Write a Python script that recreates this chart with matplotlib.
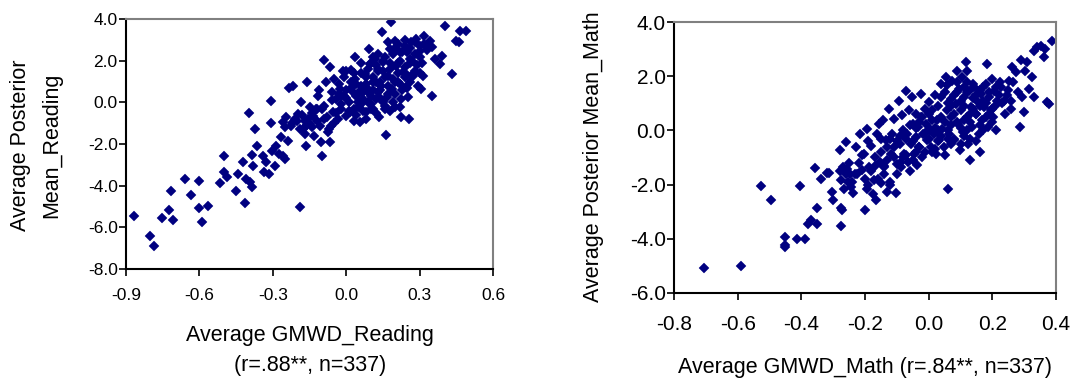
import matplotlib
matplotlib.use("Agg")
import matplotlib.pyplot as plt

plt.rcParams['font.family'] = ['Liberation Sans', 'DejaVu Sans']

# Reading: GMWD vs posterior mean
reading_x = [
    -0.869, -0.802, -0.787, -0.753, -0.725, -0.709, -0.717, -0.659, -0.634, -0.600,
    -0.600, -0.590, -0.566, -0.515, -0.498, -0.498, -0.488, -0.450, -0.442, -0.423,
    -0.413, -0.409, -0.395, -0.387, -0.387, -0.398, -0.379, -0.371, -0.364, -0.341,
    -0.334, -0.327, -0.314, -0.307, -0.307, -0.303, -0.293, -0.286, -0.275, -0.266,
    -0.259, -0.252, -0.259, -0.245, -0.239, -0.232, -0.218, -0.225, -0.211, -0.198,
    -0.187, -0.184, -0.175, -0.170, -0.166, -0.161, -0.157, -0.150, -0.136, -0.130,
    -0.123, -0.116, -0.109, -0.102, -0.098, -0.089, -0.089, -0.082, -0.075, -0.068,
    -0.068, -0.061, -0.055, -0.048, -0.041, -0.034, -0.027, -0.020, -0.014, -0.007,
    0.000, 0.014, 0.020, 0.027, 0.034, 0.038, 0.048, 0.055, 0.061, 0.068,
    0.075, 0.082, 0.089, 0.095, 0.098, 0.102, 0.109, 0.116, 0.123, 0.130,
    0.136, 0.143, 0.147, 0.150, 0.157, 0.164, 0.166, 0.170, 0.177, 0.184,
    0.188, 0.198, 0.198, 0.205, 0.211, 0.218, 0.225, 0.225, 0.232, 0.239,
    0.245, 0.252, 0.256, 0.259, 0.266, 0.273, 0.286, 0.293, 0.303, 0.307,
    0.314, 0.320, 0.327, 0.341, 0.352, 0.352, 0.361, 0.382, 0.393, 0.402,
    0.434, 0.461, 0.464, 0.488, 0.450,
    -0.20, -0.18, -0.16, -0.14, -0.12, -0.10, -0.08, -0.06, -0.05, -0.03,
    -0.02, 0.00, 0.01, 0.03, 0.04, 0.05, 0.06, 0.07, 0.08, 0.09,
    0.10, 0.11, 0.12, 0.13, 0.14, 0.15, 0.16, 0.17, 0.18, 0.19,
    0.20, 0.21, 0.22, 0.23, 0.24, 0.25, 0.26, 0.27, 0.28, 0.30,
    0.31, 0.12, 0.15, 0.08, 0.04, 0.18, 0.22, 0.02, -0.01, 0.10,
    -0.15, -0.11, -0.07, 0.06, 0.13, 0.17, 0.24, 0.28, 0.33, 0.20, 0.25,
    0.00, 0.02, 0.03, 0.05, 0.07, 0.08, 0.09, 0.10, 0.11, 0.12,
    0.13, 0.14, 0.15, 0.16, 0.17, 0.18, 0.19, 0.20, 0.21, 0.22,
    0.23, 0.24, 0.25, 0.26, 0.27, 0.28, 0.29, 0.30, 0.32, 0.30,
    -0.04, -0.06, -0.09, -0.12, -0.14, -0.17, -0.19, -0.22, -0.25, -0.02,
    0.01, 0.04, 0.06, 0.09, 0.11, 0.14, 0.16, 0.19, 0.21, 0.26,
    0.11, 0.06, -0.03, 0.00, 0.03,
]
reading_y = [
    -5.44, -6.43, -6.91, -5.54, -5.15, -5.63, -4.24, -3.68, -4.45, -3.78,
    -5.06, -5.73, -4.96, -3.86, -2.56, -3.36, -3.57, -4.24, -3.44, -2.88,
    -4.83, -3.68, -3.81, -4.08, -2.53, -0.51, -3.04, -1.28, -2.08, -2.56,
    -3.36, -2.88, -3.44, 0.08, -0.99, -2.32, -3.04, -2.08, -2.48, -1.68,
    -2.56, -2.72, -0.96, -0.72, -1.84, 0.67, 0.77, -1.12, -0.80, -0.56,
    -5.04, 0.00, -1.28, -1.52, -2.08, 0.99, -0.80, -1.04, -0.64, -1.60,
    -0.32, 0.32, -1.12, -1.92, -2.56, 2.05, -0.16, 0.96, -1.44, 1.68,
    -1.89, -1.12, -0.48, 1.12, 0.16, -0.80, 0.64, -0.32, 1.52, 0.32,
    -0.64, -0.48, 1.57, 0.48, 1.12, 2.16, 0.00, -0.96, 0.80, 0.16,
    1.36, -0.48, 0.64, 2.56, 1.84, -0.32, 0.96, 2.08, 0.16, 1.52,
    -0.72, 0.80, 3.36, 1.92, -0.16, -1.57, 0.24, 1.28, 2.56, 3.84,
    0.64, -0.24, 2.96, 1.76, 0.96, 2.40, 0.16, -0.72, 1.44, 2.72,
    0.72, 0.24, -0.80, 2.08, 2.88, 1.28, 3.04, 0.80, 2.48, 0.64,
    1.28, 3.20, 2.72, 2.96, 2.64, 0.29, 2.08, 1.84, 2.24, 3.65,
    1.36, 2.88, 3.44, 3.42, 2.96,
    -0.9, -0.6, -1.1, -0.5, -0.9, -0.3, -0.7, 0.1, -1.0, 0.4,
    -0.1, 0.6, 0.0, -0.3, 0.9, 0.4, 1.4, -0.4, 0.9, 1.6,
    0.3, 1.2, 1.8, 0.5, 1.0, 1.5, 2.2, 0.8, 1.9, 1.1,
    2.6, 1.4, 2.0, 0.6, 1.7, 2.4, 1.0, 2.0, 1.5, 2.7,
    1.9, -0.5, 0.0, -0.8, -0.6, -0.4, -0.2, 1.0, 1.2, -0.1,
    -0.2, 0.6, -1.3, 0.6, 2.3, 2.9, 3.0, 2.9, 2.5, 0.4, 1.3,
    0.2, 0.7, 1.4, -0.2, 0.5, 1.2, 0.0, 1.9, 0.6, 1.0,
    1.6, 0.2, 2.0, 1.2, 0.4, 1.6, 2.3, 1.0, 1.9, 0.9,
    2.4, 1.2, 0.7, 1.9, 1.3, 2.3, 1.8, 2.2, 2.8, 1.4,
    -0.5, 0.5, -0.8, -0.3, -1.2, -0.9, -1.3, -1.0, -1.2, 0.3,
    -0.4, 0.3, -0.1, 0.5, -0.3, 0.6, -0.3, 0.0, 2.8, 2.6,
    2.2, 1.9, 0.9, 1.5, -0.9,
]

# Math: GMWD vs posterior mean
math_x = [
    -0.706, -0.591, -0.528, -0.496, -0.452, -0.452, -0.452, -0.415, -0.404, -0.390,
    -0.379, -0.369, -0.358, -0.352, -0.352, -0.339, -0.318, -0.313, -0.303, -0.299,
    -0.279, -0.276, -0.276, -0.276, -0.271, -0.268, -0.266, -0.261, -0.258, -0.253,
    -0.247, -0.243, -0.237, -0.229, -0.224, -0.216, -0.208, -0.203, -0.201, -0.195,
    -0.193, -0.187, -0.182, -0.176, -0.172, -0.166, -0.161, -0.156, -0.153, -0.149,
    -0.142, -0.140, -0.135, -0.130, -0.125, -0.121, -0.119, -0.114, -0.109, -0.104,
    -0.098, -0.093, -0.090, -0.088, -0.083, -0.077, -0.072, -0.069, -0.065, -0.062,
    -0.057, -0.051, -0.048, -0.046, -0.041, -0.038, -0.034, -0.030, -0.025, -0.023,
    -0.017, -0.013, -0.009, -0.004, 0.001, 0.004, 0.006, 0.012, 0.017, 0.022,
    0.027, 0.032, 0.038, 0.040, 0.043, 0.048, 0.053, 0.057, 0.059, 0.061,
    0.064, 0.069, 0.071, 0.074, 0.080, 0.085, 0.090, 0.092, 0.095, 0.098,
    0.101, 0.106, 0.109, 0.111, 0.116, 0.119, 0.121, 0.124, 0.127, 0.130,
    0.132, 0.137, 0.142, 0.148, 0.153, 0.158, 0.161, 0.165, 0.169, 0.174,
    0.179, 0.184, 0.186, 0.190, 0.195, 0.200, 0.203, 0.205, 0.210, 0.216,
    0.224, 0.228, 0.237, 0.247, 0.252, 0.258, 0.263, 0.266, 0.273, 0.281,
    0.287, 0.289, 0.294, 0.299, 0.302, 0.310, 0.315, 0.326, 0.331, 0.331,
    0.341, 0.352, 0.362, 0.364, 0.373, 0.378, 0.388,
    -0.15, -0.13, -0.11, -0.09, -0.07, -0.05, -0.03, -0.02, 0.00, 0.01,
    0.02, 0.03, 0.04, 0.05, 0.06, 0.07, 0.08, 0.09, 0.10, 0.11,
    0.12, 0.13, 0.14, 0.15, 0.16, 0.17, 0.18, 0.20, 0.22, 0.24,
    -0.20, -0.22, -0.18, -0.16, -0.14, -0.12, -0.10, -0.08, -0.06, -0.04,
    -0.01, 0.02, 0.05, 0.08, 0.12, 0.15, 0.19, 0.21, -0.25, -0.19,
    -0.03, 0.00, 0.07, 0.11, 0.13, 0.16,
    -0.10, -0.08, -0.06, -0.04, -0.02, 0.00, 0.01, 0.03, 0.04, 0.06,
    0.07, 0.08, 0.09, 0.10, 0.11, 0.12, 0.13, 0.14, 0.15, 0.16,
    0.17, 0.18, 0.19, 0.20, 0.21, 0.23, 0.25, 0.26, -0.17, -0.15,
    -0.13, -0.11, -0.09, -0.07, -0.05, -0.23, -0.21, -0.26, -0.28, -0.24,
    -0.19, -0.17, -0.14, -0.12, 0.02, 0.05, 0.09, 0.11, 0.14, 0.17,
    0.03, 0.06, -0.01, -0.04, 0.10,
]
math_y = [
    -5.07, -5.01, -2.06, -2.58, -3.95, -4.23, -4.29, -3.99, -2.06, -3.99,
    -3.44, -3.31, -1.39, -2.88, -3.46, -1.78, -1.57, -1.57, -2.27, -2.58,
    -0.74, -1.84, -2.88, -3.53, -2.94, -1.35, -2.15, -0.43, -1.41, -1.90,
    -1.60, -2.09, -2.31, -0.61, -1.60, -0.12, -1.47, -0.88, -2.94, -2.15,
    0.06, -1.35, -0.59, -2.33, -1.84, -2.55, -0.12, 0.25, -1.17, -1.94,
    0.37, -1.35, -0.37, -2.27, 0.80, -2.02, -0.86, -0.12, 0.43, -2.31,
    -1.23, 1.10, -0.49, -1.35, 0.55, -0.86, 1.47, -0.12, -1.17, 0.74,
    -0.49, 1.23, 0.25, -0.86, -0.25, -1.29, 0.12, -0.61, 1.35, 0.49,
    -0.12, -0.80, 0.25, -0.37, 1.04, 0.06, -0.61, 0.74, -0.12, -0.86,
    0.37, -0.37, 1.72, 1.23, 0.06, -0.61, 1.96, 0.74, 1.66, -2.15,
    -0.12, 1.17, 0.49, 1.84, -0.37, 0.98, 2.21, 0.25, 1.53, -0.74,
    0.74, 1.96, -0.06, 1.23, 2.52, 0.49, 2.21, -0.49, 1.47, -1.10,
    0.86, 0.12, 1.60, 0.61, 1.10, -0.12, -0.80, 1.35, 0.37, 0.86,
    1.72, 2.45, 0.12, 1.23, 0.74, 1.90, 0.49, 1.47, 0.92, 1.10,
    1.78, 1.60, 1.10, 1.29, 1.84, 0.80, 2.33, 1.78, 2.15, 1.41,
    0.12, 2.58, 1.23, 0.67, 2.21, 2.52, 1.53, 1.96, 1.25, 2.94,
    3.07, 3.13, 2.70, 3.01, 1.04, 0.98, 3.31,
    -0.8, -1.1, -0.6, -0.2, -0.9, -0.4, 0.3, -1.0, -0.3, 0.4,
    -0.7, 0.9, -0.2, 0.3, 1.0, -0.5, 0.6, 1.4, 0.1, 0.9,
    1.8, 0.3, 1.2, 0.6, 1.5, 0.0, 1.0, 0.3, 1.3, 0.6,
    -1.8, -1.2, -1.5, -1.8, -1.3, -0.3, -1.6, 0.0, -1.5, 0.6,
    0.8, 0.1, -0.9, -0.3, 0.0, -0.4, 0.6, 0.0, -1.2, -0.4,
    -0.6, 0.0, 0.2, -0.2, 0.6, 0.9,
    -0.4, -1.0, 0.2, -0.8, 0.5, 0.6, -0.8, -0.4, 0.5, -0.3,
    0.9, 1.3, 0.3, 1.1, 0.4, 1.4, -0.3, 0.8, 1.3, 0.2,
    1.1, 0.5, 1.4, 0.8, 1.6, 1.0, 1.5, 1.1, -1.0, -0.3,
    -0.6, -1.0, -1.2, -0.3, -1.1, -1.6, -0.9, -1.6, -1.5, -1.9,
    -2.0, -1.3, -1.6, -1.9, 1.3, 1.4, 1.8, 1.6, 1.7, 1.6,
    0.0, 0.0, -0.1, 0.1, -0.5,
]

reading_xticks = [-0.9, -0.6, -0.3, 0.0, 0.3, 0.6]
reading_yticks = [-8.0, -6.0, -4.0, -2.0, 0.0, 2.0, 4.0]
math_xticks = [-0.8, -0.6, -0.4, -0.2, 0.0, 0.2, 0.4]
math_yticks = [-6.0, -4.0, -2.0, 0.0, 2.0, 4.0]

NAVY = '#000080'
W, H = 1076, 379


def style_axes(ax, xticks, yticks, tick_size, xpad):
    ax.set_xlim(xticks[0], xticks[-1])
    ax.set_ylim(yticks[0], yticks[-1])
    ax.set_xticks(xticks)
    ax.set_yticks(yticks)
    ax.set_xticklabels(['%.1f' % v for v in xticks])
    ax.set_yticklabels(['%.1f' % v for v in yticks])
    ax.tick_params(direction='out', length=5, width=1.2, labelsize=tick_size)
    ax.tick_params(axis='y', pad=1)
    ax.tick_params(axis='x', pad=xpad)
    for side in ['left', 'bottom']:
        ax.spines[side].set_color('black')
        ax.spines[side].set_linewidth(1.5)
    for side in ['top', 'right']:
        ax.spines[side].set_color('#808080')
        ax.spines[side].set_linewidth(1.5)


fig = plt.figure(figsize=(W / 100, H / 100), dpi=100)

# left panel: pixel box 126..493 x 19..269
ax1 = fig.add_axes([126 / W, 1 - 269 / H, 367 / W, 250 / H])
ax1.plot(reading_x, reading_y, linestyle='none', marker='D', ms=5.1,
         color=NAVY, mec=NAVY, mew=0.3)
style_axes(ax1, reading_xticks, reading_yticks, 12.5, 9)
fig.text(36 / W, 1 - 145 / H, 'Average Posterior\nMean_Reading', rotation=90,
         ha='center', va='center', multialignment='center', fontsize=15.5,
         linespacing=1.6)
fig.text(310 / W, 1 - 335 / H, 'Average GMWD_Reading', ha='center', va='center',
         fontsize=15.5)
fig.text(310 / W, 1 - 366 / H, '(r=.88**, n=337)', ha='center', va='center',
         fontsize=15.5)

# right panel: pixel box 674..1056 x 22..293
ax2 = fig.add_axes([674 / W, 1 - 293 / H, 382 / W, 271 / H])
ax2.plot(math_x, math_y, linestyle='none', marker='D', ms=5.1,
         color=NAVY, mec=NAVY, mew=0.3)
style_axes(ax2, math_xticks, math_yticks, 15, 11)
fig.text(593 / W, 1 - 157 / H, 'Average Posterior Mean_Math', rotation=90,
         ha='center', va='center', fontsize=15.5)
fig.text(865 / W, 1 - 367 / H, 'Average GMWD_Math (r=.84**, n=337)',
         ha='center', va='center', fontsize=15.5)

fig.savefig('out.png', dpi=100)
